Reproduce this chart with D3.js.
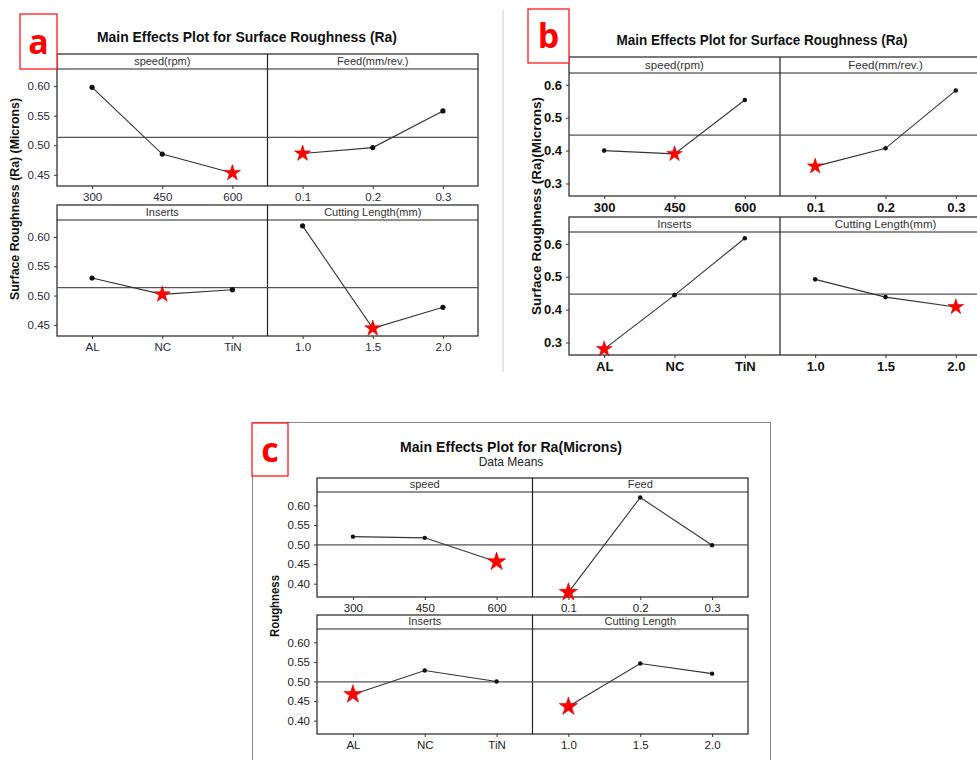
<!DOCTYPE html>
<html>
<head>
<meta charset="utf-8">
<script src="https://cdn.jsdelivr.net/npm/d3@7"></script>
<style>
  body { margin: 0; background: #fff; }
  text { font-family: 'Liberation Sans', Arial, sans-serif; }
</style>
</head>
<body>
<div id="mount"></div>
<script>
// factor levels (x categories)
var speedLevels = ['300', '450', '600'];
var feedLevels = ['0.1', '0.2', '0.3'];
var insertLevels = ['AL', 'NC', 'TiN'];
var lengthLevels = ['1.0', '1.5', '2.0'];

// panel a: mean Ra per level
var aSpeed = [0.598, 0.485, 0.453];
var aFeed = [0.486, 0.496, 0.558];
var aInserts = [0.530, 0.502, 0.510];
var aLength = [0.619, 0.444, 0.480];

// panel b
var bSpeed = [0.400, 0.390, 0.554];
var bFeed = [0.352, 0.407, 0.583];
var bInserts = [0.280, 0.444, 0.617];
var bLength = [0.492, 0.438, 0.408];

// panel c
var cSpeed = [0.520, 0.517, 0.456];
var cFeed = [0.378, 0.620, 0.498];
var cInserts = [0.467, 0.528, 0.500];
var cLength = [0.436, 0.546, 0.520];

// y tick labels
var aTicks = [0.45, 0.50, 0.55, 0.60];
var bTicks = [0.3, 0.4, 0.5, 0.6];
var cTicks = [0.40, 0.45, 0.50, 0.55, 0.60];

// strip titles
var aStrips = ['speed(rpm)', 'Feed(mm/rev.)', 'Inserts', 'Cutting Length(mm)'];
var bStrips = ['speed(rpm)', 'Feed(mm/rev.)', 'Inserts', 'Cutting Length(mm)'];
var cStrips = ['speed', 'Feed', 'Inserts', 'Cutting Length'];

var levels = [speedLevels, feedLevels, insertLevels, lengthLevels];

var svg = d3.select('#mount').append('svg')
    .attr('width', 977)
    .attr('height', 760);

// draws one 2x2 main effects plot
function drawPanel(cfg) {
  var g = svg.append('g');
  var mid = (cfg.left + cfg.right) / 2;
  var all = [].concat.apply([], cfg.series);
  var grand = d3.mean(all);

  cfg.rows.forEach(function(r, ri) {
    var y = d3.scaleLinear().domain(cfg.domain).range([r.bottom, r.stripBottom]);

    // strip + frame
    g.append('rect')
        .attr('x', cfg.left).attr('y', r.top)
        .attr('width', cfg.right - cfg.left).attr('height', r.bottom - r.top)
        .attr('fill', 'none').attr('stroke', '#222').attr('stroke-width', 1.2);
    g.append('line')
        .attr('x1', cfg.left).attr('x2', cfg.right)
        .attr('y1', r.stripBottom).attr('y2', r.stripBottom)
        .attr('stroke', '#222').attr('stroke-width', 1.2);
    g.append('line')
        .attr('x1', mid).attr('x2', mid)
        .attr('y1', r.top).attr('y2', r.bottom)
        .attr('stroke', '#222').attr('stroke-width', 1.2);

    // grand mean reference line
    g.append('line')
        .attr('x1', cfg.left).attr('x2', cfg.right)
        .attr('y1', y(grand)).attr('y2', y(grand))
        .attr('stroke', '#555').attr('stroke-width', 1.2);

    // y axis
    var ya = g.append('g')
        .attr('transform', `translate(${cfg.left},0)`)
        .call(d3.axisLeft(y).tickValues(cfg.ticks).tickFormat(d3.format(cfg.fmt)).tickSize(3).tickPadding(4));
    ya.select('.domain').remove();
    ya.selectAll('text')
        .style('font-size', cfg.tickSize + 'px')
        .style('font-weight', cfg.tickWeight)
        .attr('fill', cfg.tickColor);
    ya.selectAll('line').attr('stroke', '#333');

    for (var ci = 0; ci < 2; ci++) {
      var k = ri * 2 + ci;
      var x0 = ci ? mid : cfg.left, x1 = ci ? cfg.right : mid;
      var x = d3.scalePoint().domain(levels[k]).range([x0, x1]).padding(0.5);
      var vals = cfg.series[k];
      var pts = levels[k].map(function(l, i) { return { lv: l, v: vals[i] }; });
      var best = d3.minIndex(vals);

      g.append('text')
          .attr('x', (x0 + x1) / 2)
          .attr('y', r.stripBottom - 4)
          .attr('text-anchor', 'middle')
          .style('font-size', cfg.stripSize + 'px')
          .attr('fill', '#333')
          .text(cfg.strips[k]);

      var xa = g.append('g')
          .attr('transform', `translate(0,${r.bottom})`)
          .call(d3.axisBottom(x).tickSize(3).tickPadding(4));
      xa.select('.domain').remove();
      xa.selectAll('text')
          .style('font-size', cfg.tickSize + 'px')
          .style('font-weight', cfg.tickWeight)
          .attr('fill', cfg.tickColor);
      xa.selectAll('line').attr('stroke', '#333');

      g.append('path')
          .datum(pts)
          .attr('fill', 'none')
          .attr('stroke', '#333')
          .attr('stroke-width', 1.1)
          .attr('d', d3.line().x(function(d) { return x(d.lv); }).y(function(d) { return y(d.v); }));

      g.selectAll(null)
          .data(pts.filter(function(d, i) { return i !== best; }))
        .enter().append('circle')
          .attr('cx', function(d) { return x(d.lv); })
          .attr('cy', function(d) { return y(d.v); })
          .attr('r', cfg.dotR)
          .attr('fill', '#111');

      g.append('path')
          .attr('d', d3.symbol().type(d3.symbolStar).size(cfg.starSize)())
          .attr('transform', `translate(${x(pts[best].lv)},${y(pts[best].v)})`)
          .attr('fill', '#ff0000')
          .attr('stroke', '#d40000')
          .attr('stroke-width', 0.6);
    }
  });

  // title
  g.append('text')
      .attr('x', cfg.titleX).attr('y', cfg.titleY)
      .attr('text-anchor', 'middle')
      .style('font-size', cfg.titleSize + 'px')
      .style('font-weight', 'bold')
      .attr('textLength', cfg.titleLen)
      .attr('lengthAdjust', 'spacingAndGlyphs')
      .attr('fill', '#111')
      .text(cfg.title);

  if (cfg.subtitle) {
    g.append('text')
        .attr('x', cfg.titleX).attr('y', cfg.titleY + 14)
        .attr('text-anchor', 'middle')
        .style('font-size', '12px')
        .attr('fill', '#222')
        .text(cfg.subtitle);
  }

  // y axis title
  g.append('text')
      .attr('transform', `translate(${cfg.ylabX},${cfg.ylabY}) rotate(-90)`)
      .attr('text-anchor', 'middle')
      .style('font-size', cfg.ylabSize + 'px')
      .style('font-weight', 'bold')
      .attr('textLength', cfg.ylabLen)
      .attr('lengthAdjust', 'spacingAndGlyphs')
      .attr('fill', '#111')
      .text(cfg.ylab);

  // red letter box
  g.append('rect')
      .attr('x', cfg.box[0]).attr('y', cfg.box[1])
      .attr('width', cfg.box[2]).attr('height', cfg.box[3])
      .attr('fill', '#fff').attr('stroke', '#ff1a1a').attr('stroke-width', 1.3);
  g.append('text')
      .attr('x', cfg.box[0] + cfg.box[2] / 2)
      .attr('y', cfg.box[1] + cfg.box[3] / 2 + 12)
      .attr('text-anchor', 'middle')
      .style('font-size', '34px')
      .style('font-weight', 'bold')
      .style('font-family', "'Open Sans', 'Liberation Sans', sans-serif")
      .attr('fill', '#ff0000')
      .text(cfg.letter);
}

// light frames of the source images
svg.append('line')
    .attr('x1', 503).attr('x2', 503).attr('y1', 10).attr('y2', 372)
    .attr('stroke', '#ccc');
svg.append('rect')
    .attr('x', 252.5).attr('y', 422.5).attr('width', 518).attr('height', 400)
    .attr('fill', 'none').attr('stroke', '#888');

drawPanel({
  left: 57, right: 478,
  rows: [{ top: 54, stripBottom: 69, bottom: 186 }, { top: 205, stripBottom: 220, bottom: 336 }],
  domain: [0.431, 0.629], ticks: aTicks, fmt: '.2f',
  series: [aSpeed, aFeed, aInserts, aLength], strips: aStrips,
  tickSize: 11.5, tickWeight: 'normal', tickColor: '#2a2a3a', stripSize: 11,
  dotR: 2.6, starSize: 80,
  title: 'Main Effects Plot for Surface Roughness (Ra)', titleX: 247, titleY: 42, titleSize: 14, titleLen: 300,
  ylab: 'Surface Roughness (Ra) (Microns)', ylabX: 19, ylabY: 199, ylabSize: 12, ylabLen: 202,
  box: [20, 14, 37, 55], letter: 'a'
});

drawPanel({
  left: 569, right: 991,
  rows: [{ top: 57, stripBottom: 73, bottom: 196 }, { top: 217, stripBottom: 232, bottom: 355 }],
  domain: [0.262, 0.636], ticks: bTicks, fmt: '.1f',
  series: [bSpeed, bFeed, bInserts, bLength], strips: bStrips,
  tickSize: 13, tickWeight: 'bold', tickColor: '#111', stripSize: 11.5,
  dotR: 2.3, starSize: 75,
  title: 'Main Effects Plot for Surface Roughness (Ra)', titleX: 762, titleY: 45, titleSize: 15, titleLen: 291,
  ylab: 'Surface Roughness (Ra)(Microns)', ylabX: 541, ylabY: 206, ylabSize: 13, ylabLen: 218,
  box: [528, 9, 41, 54], letter: 'b'
});

drawPanel({
  left: 317, right: 748,
  rows: [{ top: 478, stripBottom: 492, bottom: 597 }, { top: 615, stripBottom: 629, bottom: 734 }],
  domain: [0.366, 0.634], ticks: cTicks, fmt: '.2f',
  series: [cSpeed, cFeed, cInserts, cLength], strips: cStrips,
  tickSize: 11.5, tickWeight: 'normal', tickColor: '#222', stripSize: 11,
  dotR: 2.2, starSize: 105,
  title: 'Main Effects Plot for Ra(Microns)', titleX: 511, titleY: 452, titleSize: 14, titleLen: 222,
  subtitle: 'Data Means',
  ylab: 'Roughness', ylabX: 279, ylabY: 606, ylabSize: 12, ylabLen: 62,
  box: [252, 423, 36, 53], letter: 'c'
});
</script>
</body>
</html>
